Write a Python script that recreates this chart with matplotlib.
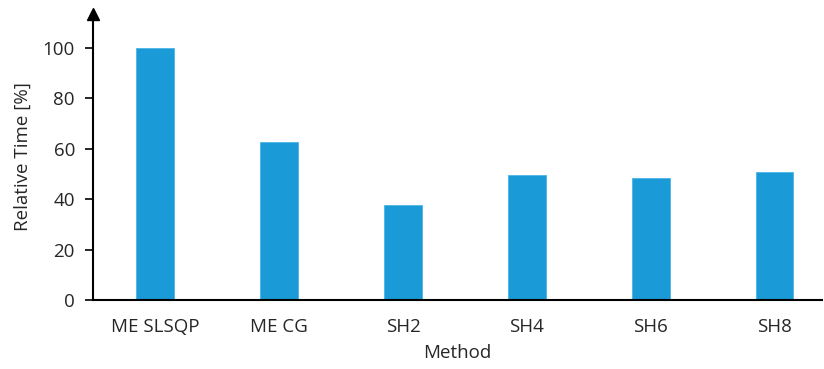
import numpy as np
import matplotlib.pyplot as plt

methods = ['ME SLSQP', 'ME CG', 'SH2', 'SH4', 'SH6', 'SH8']
rel_time = [100, 62.7, 37.7, 49.5, 48.6, 50.8]
yticks = [0, 20, 40, 60, 80, 100]

plt.rcParams['font.family'] = ['Open Sans', 'DejaVu Sans']

fig = plt.figure(figsize=(8.24, 3.69), dpi=100)
ax = fig.add_axes([93 / 824, 69 / 369, (822 - 93) / 824, (300 - 14) / 369])

x = np.arange(len(methods))
ax.bar(x, rel_time, width=0.3, color='#1a9ad6', edgecolor='#4db3e6', linewidth=0.6, zorder=2)

ax.set_xlim(-0.5, 5.38)
ax.set_ylim(0, 113.5)
ax.set_xticks(x)
ax.set_xticklabels(methods)
ax.set_yticks(yticks)
ax.tick_params(axis='x', length=0, pad=13, labelsize=13.5, colors='#262626')
ax.tick_params(axis='y', length=6, width=1.2, pad=7, labelsize=13.5, colors='#262626')
ax.tick_params(axis='y', color='black')

for s in ['top', 'right']:
    ax.spines[s].set_visible(False)
ax.spines['left'].set_linewidth(1.5)
ax.spines['bottom'].set_linewidth(1.5)

# arrow head on the y axis
ax.plot(0, 1, marker='^', color='black', markersize=8, transform=ax.transAxes, clip_on=False)

ax.set_ylabel('Relative Time [%]', fontsize=13.5, color='#262626', labelpad=8)
ax.set_xlabel('Method', fontsize=13.5, color='#262626', labelpad=6)

fig.savefig('out.png', dpi=100)
